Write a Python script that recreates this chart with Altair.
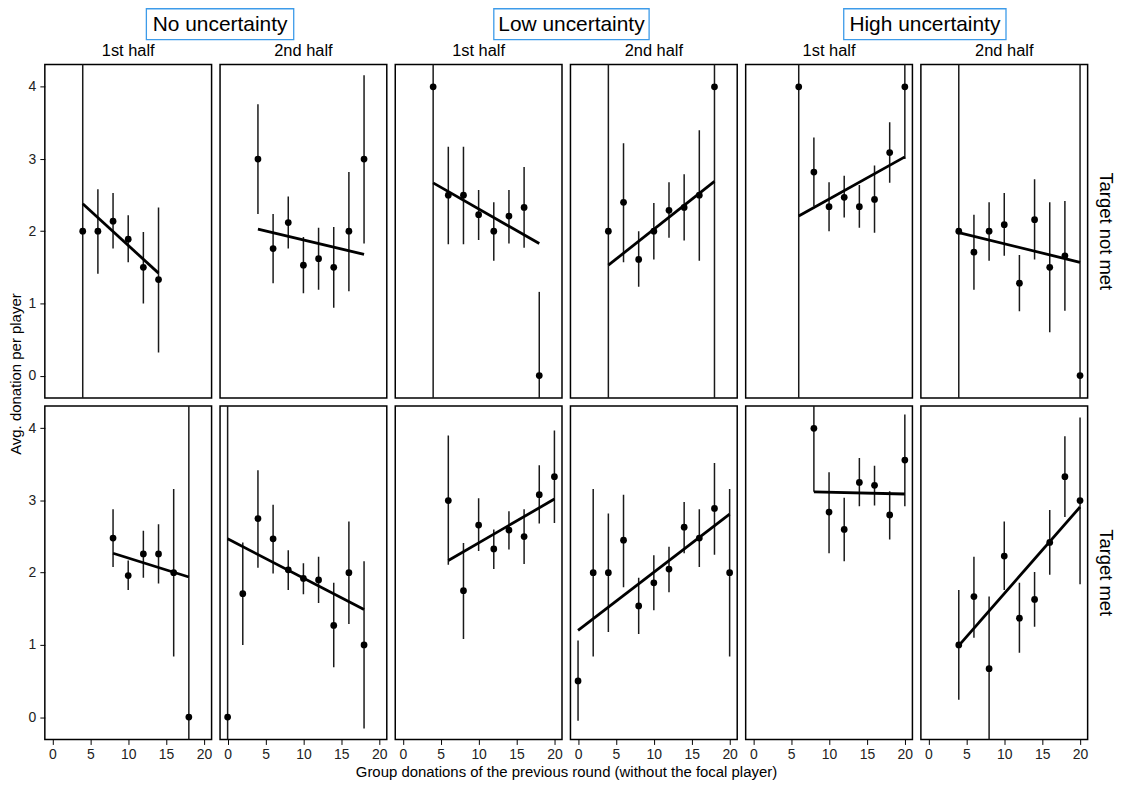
import altair as alt
import pandas as pd

FONT = "Liberation Sans"
ROWS = ["Target not met", "Target met"]
GROUPS = ["No uncertainty", "Low uncertainty", "High uncertainty"]
X_TITLE = "Group donations of the previous round (without the focal player)"
Y_TITLE = "Avg. donation per player"
X_TICKS = [0, 5, 10, 15, 20]
Y_TICKS = [0, 1, 2, 3, 4]

# ---------- Target not met ----------
# col 1: No uncertainty, 1st half
nm1_x = [4, 6, 8, 10, 12, 14]
nm1_y = [2.0, 2.0, 2.14, 1.89, 1.50, 1.33]
nm1_lo = [-1, 1.41, 1.76, 1.57, 1.00, 0.32]
nm1_hi = [5, 2.58, 2.53, 2.22, 1.99, 2.33]
nm1_fx = [4, 14]
nm1_fy = [2.38, 1.42]
# col 2: No uncertainty, 2nd half
nm2_x = [4, 6, 8, 10, 12, 14, 16, 18]
nm2_y = [3.0, 1.76, 2.12, 1.53, 1.62, 1.50, 2.0, 3.0]
nm2_lo = [2.24, 1.28, 1.76, 1.14, 1.19, 0.94, 1.17, 1.83]
nm2_hi = [3.76, 2.24, 2.48, 1.92, 2.05, 2.06, 2.82, 4.16]
nm2_fx = [4, 18]
nm2_fy = [2.03, 1.68]
# col 3: Low uncertainty, 1st half
nm3_x = [4, 6, 8, 10, 12, 14, 16, 18]
nm3_y = [4.0, 2.5, 2.5, 2.23, 2.0, 2.21, 2.33, 0.0]
nm3_lo = [-1, 1.82, 1.82, 1.88, 1.59, 1.83, 1.77, -1]
nm3_hi = [5, 3.17, 3.17, 2.57, 2.40, 2.57, 2.89, 1.16]
nm3_fx = [4, 18]
nm3_fy = [2.67, 1.83]
# col 4: Low uncertainty, 2nd half
nm4_x = [4, 6, 8, 10, 12, 14, 16, 18]
nm4_y = [2.0, 2.40, 1.61, 2.0, 2.29, 2.33, 2.50, 4.0]
nm4_lo = [-1, 1.57, 1.23, 1.61, 1.91, 1.87, 1.59, -1]
nm4_hi = [5, 3.22, 2.0, 2.39, 2.68, 2.79, 3.40, 5]
nm4_fx = [4, 18]
nm4_fy = [1.53, 2.69]
# col 5: High uncertainty, 1st half
nm5_x = [6, 8, 10, 12, 14, 16, 18, 20]
nm5_y = [4.0, 2.82, 2.34, 2.47, 2.34, 2.44, 3.09, 4.0]
nm5_lo = [-1, 2.35, 2.0, 2.19, 2.05, 1.98, 2.67, 3.0]
nm5_hi = [5, 3.30, 2.68, 2.77, 2.64, 2.91, 3.51, 5]
nm5_fx = [6, 20]
nm5_fy = [2.21, 3.03]
# col 6: High uncertainty, 2nd half
nm6_x = [4, 6, 8, 10, 12, 14, 16, 18, 20]
nm6_y = [2.0, 1.71, 2.0, 2.09, 1.28, 2.16, 1.50, 1.66, 0.0]
nm6_lo = [-1, 1.19, 1.59, 1.66, 0.89, 1.61, 0.60, 0.90, -1]
nm6_hi = [5, 2.23, 2.40, 2.53, 1.67, 2.72, 2.40, 2.42, 5]
nm6_fx = [4, 20]
nm6_fy = [1.98, 1.57]

# ---------- Target met ----------
m1_x = [8, 10, 12, 14, 16, 18]
m1_y = [2.48, 1.96, 2.26, 2.26, 2.0, 0.0]
m1_lo = [2.08, 1.76, 1.93, 1.85, 0.84, -1]
m1_hi = [2.88, 2.17, 2.58, 2.67, 3.16, 5]
m1_fx = [8, 18]
m1_fy = [2.27, 1.94]

m2_x = [0, 2, 4, 6, 8, 10, 12, 14, 16, 18]
m2_y = [0.0, 1.71, 2.75, 2.47, 2.04, 1.92, 1.90, 1.27, 2.0, 1.0]
m2_lo = [-1, 1.0, 2.07, 1.99, 1.76, 1.70, 1.58, 0.69, 1.29, -0.16]
m2_hi = [5, 2.42, 3.42, 2.94, 2.31, 2.13, 2.22, 1.86, 2.71, 2.16]
m2_fx = [0, 18]
m2_fy = [2.47, 1.49]

m3_x = [6, 8, 10, 12, 14, 16, 18, 20]
m3_y = [3.0, 1.75, 2.66, 2.33, 2.59, 2.50, 3.08, 3.33]
m3_lo = [2.11, 1.08, 2.30, 2.05, 2.32, 2.12, 2.68, 2.69]
m3_hi = [3.90, 2.41, 3.03, 2.60, 2.85, 2.88, 3.49, 3.97]
m3_fx = [6, 20]
m3_fy = [2.17, 3.02]

m4_x = [0, 2, 4, 6, 8, 10, 12, 14, 16, 18, 20]
m4_y = [0.50, 2.0, 2.0, 2.45, 1.54, 1.86, 2.05, 2.63, 2.48, 2.89, 2.0]
m4_lo = [-0.05, 0.84, 1.18, 1.80, 1.15, 1.48, 1.73, 2.27, 2.08, 2.25, 0.84]
m4_hi = [1.06, 3.16, 2.82, 3.08, 1.93, 2.24, 2.36, 2.98, 2.88, 3.52, 3.16]
m4_fx = [0, 20]
m4_fy = [1.20, 2.81]

m5_x = [8, 10, 12, 14, 16, 18, 20]
m5_y = [4.0, 2.84, 2.60, 3.25, 3.21, 2.80, 3.56]
m5_lo = [3.12, 2.27, 2.16, 2.92, 2.93, 2.46, 2.92]
m5_hi = [5, 3.39, 3.04, 3.59, 3.48, 3.13, 4.19]
m5_fx = [8, 20]
m5_fy = [3.12, 3.09]

m6_x = [4, 6, 8, 10, 12, 14, 16, 18, 20]
m6_y = [1.0, 1.67, 0.67, 2.23, 1.37, 1.63, 2.42, 3.33, 3.0]
m6_lo = [0.24, 1.10, -1, 1.76, 0.89, 1.25, 1.97, 2.77, 1.84]
m6_hi = [1.76, 2.22, 1.67, 2.71, 1.86, 2.01, 2.87, 3.89, 4.15]
m6_fx = [4, 20]
m6_fy = [0.99, 2.91]

panels = [
    (ROWS[0], 1, nm1_x, nm1_y, nm1_lo, nm1_hi, nm1_fx, nm1_fy),
    (ROWS[0], 2, nm2_x, nm2_y, nm2_lo, nm2_hi, nm2_fx, nm2_fy),
    (ROWS[0], 3, nm3_x, nm3_y, nm3_lo, nm3_hi, nm3_fx, nm3_fy),
    (ROWS[0], 4, nm4_x, nm4_y, nm4_lo, nm4_hi, nm4_fx, nm4_fy),
    (ROWS[0], 5, nm5_x, nm5_y, nm5_lo, nm5_hi, nm5_fx, nm5_fy),
    (ROWS[0], 6, nm6_x, nm6_y, nm6_lo, nm6_hi, nm6_fx, nm6_fy),
    (ROWS[1], 1, m1_x, m1_y, m1_lo, m1_hi, m1_fx, m1_fy),
    (ROWS[1], 2, m2_x, m2_y, m2_lo, m2_hi, m2_fx, m2_fy),
    (ROWS[1], 3, m3_x, m3_y, m3_lo, m3_hi, m3_fx, m3_fy),
    (ROWS[1], 4, m4_x, m4_y, m4_lo, m4_hi, m4_fx, m4_fy),
    (ROWS[1], 5, m5_x, m5_y, m5_lo, m5_hi, m5_fx, m5_fy),
    (ROWS[1], 6, m6_x, m6_y, m6_lo, m6_hi, m6_fx, m6_fy),
]

records = []
for target, col, xs, ys, los, his, fxs, fys in panels:
    for a, b, lo, hi in zip(xs, ys, los, his):
        records.append(dict(kind="pt", target=target, col=col, x=a, y=b, lo=lo, hi=hi))
    for a, b in zip(fxs, fys):
        records.append(dict(kind="fit", target=target, col=col, x=a, y=b))
for i, g in enumerate(GROUPS):
    records.append(dict(kind="hdr", target=ROWS[0], col=2 * i + 1, label=g))
df = pd.DataFrame(records)

W, H = 167.5, 335
xscale = alt.Scale(domain=[-1, 21], nice=False, zero=False)
yscale = alt.Scale(domain=[-0.31, 4.31], nice=False, zero=False)
xaxis = alt.Axis(values=X_TICKS, title=None, labelPadding=3)
yaxis = alt.Axis(values=Y_TICKS, title=None, labelPadding=4)

rules = alt.Chart().transform_filter("datum.kind == 'pt'").mark_rule(
    clip=True, strokeWidth=1.5, color="#1a1a1a"
).encode(
    x=alt.X("x:Q", scale=xscale, axis=xaxis),
    y=alt.Y("lo:Q", scale=yscale, axis=yaxis),
    y2="hi:Q",
)
fit = alt.Chart().transform_filter("datum.kind == 'fit'").mark_line(
    clip=True, strokeWidth=2.8, color="black"
).encode(
    x=alt.X("x:Q", scale=xscale, axis=xaxis),
    y=alt.Y("y:Q", scale=yscale, axis=yaxis),
)
pts = alt.Chart().transform_filter("datum.kind == 'pt'").mark_circle(
    clip=True, size=46, opacity=1, color="black"
).encode(
    x=alt.X("x:Q", scale=xscale, axis=xaxis),
    y=alt.Y("y:Q", scale=yscale, axis=yaxis),
)

# header boxes above each pair of panels (layout constants)
BOX_CENTER = [176, 177, 180]
BOX_WIDTH = [148, 156, 163]
BOX_TOP, BOX_BOTTOM = -56, -25
boxes = []
for i in range(3):
    c = 2 * i + 1
    boxes.append(
        alt.Chart().transform_filter(f"datum.kind == 'hdr' && datum.col == {c}").mark_rect(
            fill="white", fillOpacity=0, stroke="#3d9be9", strokeWidth=1.3
        ).encode(
            x=alt.value(BOX_CENTER[i] - BOX_WIDTH[i] / 2),
            x2=alt.value(BOX_CENTER[i] + BOX_WIDTH[i] / 2),
            y=alt.value(BOX_TOP),
            y2=alt.value(BOX_BOTTOM),
        )
    )
    boxes.append(
        alt.Chart().transform_filter(f"datum.kind == 'hdr' && datum.col == {c}").mark_text(
            font=FONT, fontSize=21, color="black", align="center", baseline="middle"
        ).encode(
            x=alt.value(BOX_CENTER[i]),
            y=alt.value((BOX_TOP + BOX_BOTTOM) / 2 + 1),
            text="label:N",
        )
    )

layered = alt.layer(rules, fit, pts, *boxes, data=df).properties(width=W, height=H)

chart = layered.facet(
    row=alt.Row(
        "target:N",
        sort=ROWS,
        header=alt.Header(
            title=Y_TITLE,
            titleOrient="left",
            titleFontSize=15,
            titleFontWeight="normal",
            titleFont=FONT,
            titlePadding=-6,
            labelOrient="right",
            labelAngle=90,
            labelFontSize=18.5,
            labelFont=FONT,
            labelPadding=8,
        ),
    ),
    column=alt.Column(
        "col:O",
        sort=[1, 2, 3, 4, 5, 6],
        header=alt.Header(
            title=X_TITLE,
            titleOrient="bottom",
            titleFontSize=15,
            titleFontWeight="normal",
            titleFont=FONT,
            titlePadding=-6,
            labelOrient="top",
            labelExpr="datum.value % 2 == 1 ? '1st half' : '2nd half'",
            labelFontSize=16.5,
            labelFont=FONT,
            labelPadding=5,
        ),
    ),
    spacing=8,
    bounds="flush",
).properties(
    padding={"left": 0, "top": -3, "right": 2, "bottom": 0}
).configure(
    font=FONT
).configure_view(
    stroke="black", strokeWidth=1.5
).configure_axis(
    grid=False,
    domain=False,
    ticks=True,
    tickColor="black",
    tickSize=5,
    tickWidth=1,
    labelFontSize=14,
    labelColor="#222222",
    labelFlush=False,
    labelFont=FONT,
    minExtent=0,
)

chart.save("out.html", embed_options={"renderer": "svg", "actions": False})
